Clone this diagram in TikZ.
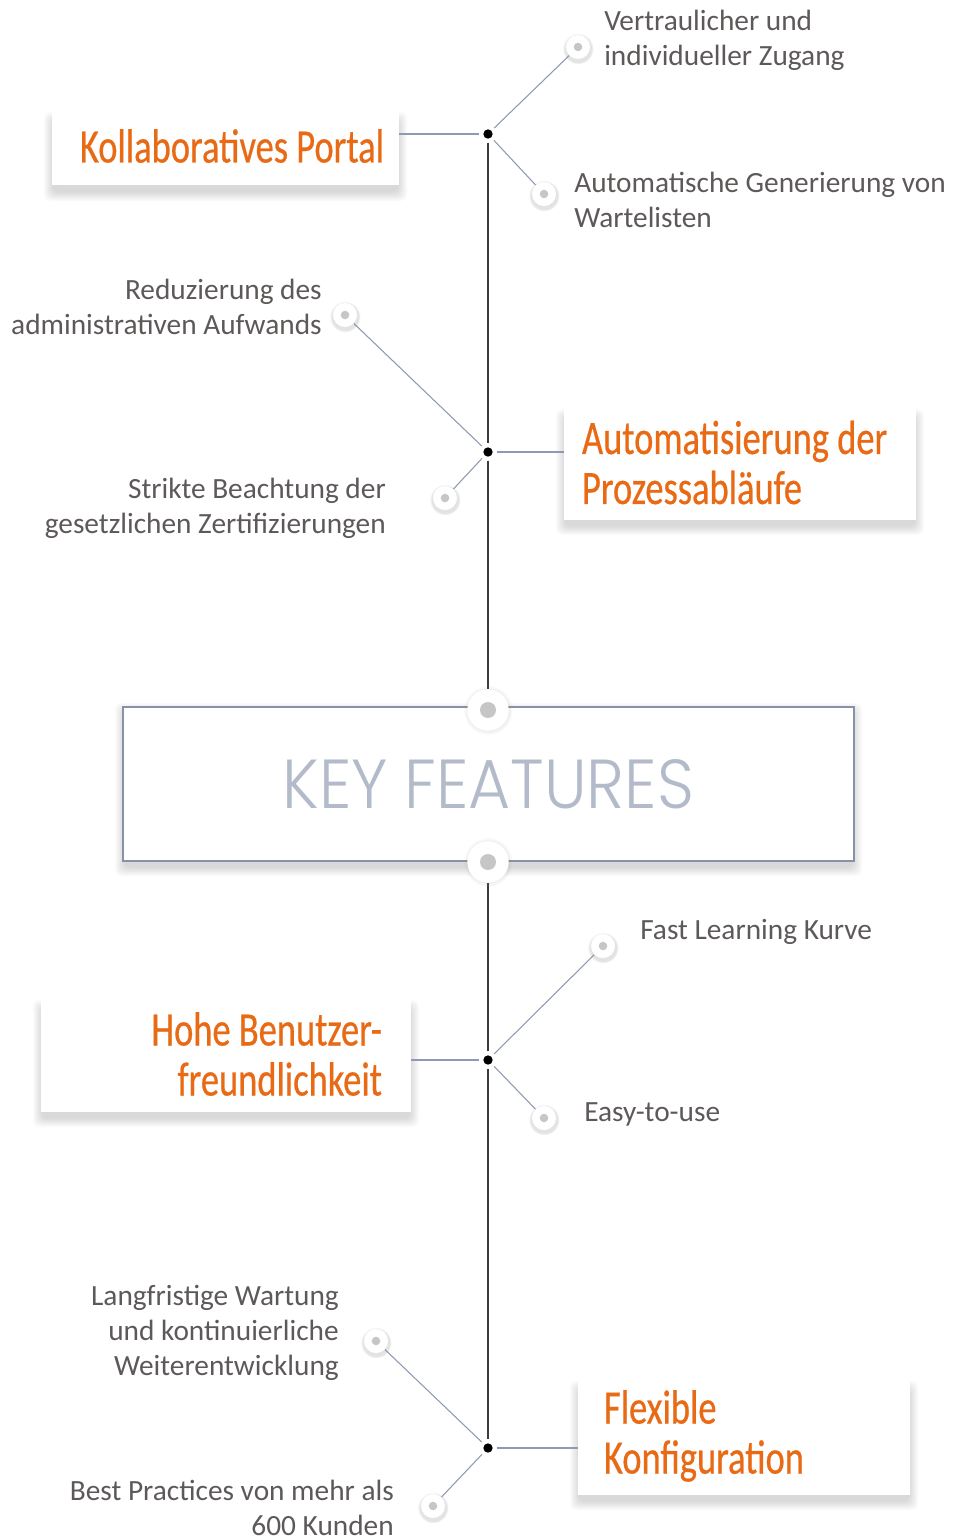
\documentclass[tikz,border=0pt]{standalone}
\usepackage{fontspec}
\setmainfont{Carlito}
\newfontfamily\titlefont{Carlito}[FakeStretch=0.76,FakeBold=0.5]
\IfFontExistsTF{Poppins Light}{\newfontfamily\keyfont{Poppins Light}[FakeStretch=0.93,WordSpace=0.93]}{\newfontfamily\keyfont{Poppins}[FakeStretch=0.93,WordSpace=0.93]}
\usetikzlibrary{shadows}
\definecolor{orng}{HTML}{E96A14}
\definecolor{txtgray}{HTML}{5E5959}
\definecolor{slate}{HTML}{8D9AB2}
\definecolor{spinecol}{HTML}{3C3C3C}
\definecolor{keytxt}{HTML}{B3BBCB}
\definecolor{keyborder}{HTML}{8592A8}
\definecolor{dotgray}{HTML}{C6C6C6}
\pgfdeclarelayer{shadowlayer}
\pgfdeclarelayer{linelayer}
\pgfsetlayers{shadowlayer,linelayer,main}
% #1 x1, #2 y1, #3 x2, #4 y2, #5 top inset
\newcommand{\softshadow}[5]{%
  \begin{pgfonlayer}{shadowlayer}
  \foreach \s in {1,...,10}{
    \fill[black,opacity=0.017,rounded corners=4pt] (#1+2-\s,#2+#5-\s) rectangle (#3-2+\s,#4+5+\s);
  }
  \end{pgfonlayer}}
\begin{document}
\begin{tikzpicture}[x=0.75pt,y=-0.75pt,
  body/.style={inner sep=0pt,text=txtgray,font=\fontsize{22}{26.25}\selectfont},
  titlebox/.style={fill=white,inner ysep=0pt,text=orng,font=\titlefont\fontsize{36}{37.5}\selectfont},
  hub/.style={circle,fill=black,inner sep=0pt,minimum size=7pt,outer sep=3pt},
  bullet/.style={circle,fill=white,inner sep=0pt,minimum size=18pt,
    circular drop shadow={shadow xshift=0pt,shadow yshift=-1pt,shadow scale=1.3,opacity=0.22},
    path picture={\fill[dotgray] (path picture bounding box.center) circle[radius=3.2pt];}},
  bigbullet/.style={circle,fill=white,inner sep=0pt,minimum size=31pt,
    circular drop shadow={shadow xshift=0pt,shadow yshift=0pt,shadow scale=1.2,opacity=0.12},
    path picture={\fill[dotgray] (path picture bounding box.center) circle[radius=6pt];}},
  thin/.style={draw=slate,line width=0.8pt},
  spine/.style={draw=spinecol,line width=1pt}]
\useasboundingbox (0,0) rectangle (962,1539);

% box shadows
\softshadow{52}{108}{399}{186}{14}
\softshadow{564}{405}{916}{520}{14}
\softshadow{41}{996}{411}{1112}{14}
\softshadow{578}{1377}{910}{1495}{14}
\softshadow{123}{707}{854}{861}{6}

% title boxes
\node[titlebox,minimum width=260.25pt,minimum height=58.5pt,text width=237.75pt,align=flush right,inner xsep=11.25pt]
  (pA) at (225.5,146) {Kollaboratives Portal};
\node[titlebox,minimum width=264pt,minimum height=86.25pt,text width=237pt,align=flush left,inner xsep=13.5pt]
  (pB) at (740,462.5) {Automatisierung der\\Prozessabläufe};
\node[titlebox,minimum width=277.5pt,minimum height=87pt,text width=234pt,align=flush right,inner xsep=21.75pt]
  (pC) at (226,1054) {Hohe Benutzer-\\freundlichkeit};
\node[titlebox,minimum width=249pt,minimum height=88.5pt,text width=210pt,align=flush left,inner xsep=19.5pt]
  (pD) at (744,1436) {Flexible\\Konfiguration};

% key features box
\node[draw=keyborder,line width=2pt,fill=white,minimum width=548.25pt,minimum height=115.5pt,
  text=keytxt,font=\keyfont\fontsize{52}{52}\selectfont] (key) at (488.5,784) {KEY FEATURES};
\node[bigbullet] (kt) at (488,710) {};
\node[bigbullet] (kb) at (488,862) {};

% hubs
\node[hub] (h1) at (488,134) {};
\node[hub] (h2) at (488,452) {};
\node[hub] (h3) at (488,1060) {};
\node[hub] (h4) at (488,1448) {};

% bullets
\node[bullet] (b1) at (578,47) {};
\node[bullet] (b2) at (544,194) {};
\node[bullet] (b3) at (345,315) {};
\node[bullet] (b4) at (445,498) {};
\node[bullet] (b5) at (603,946) {};
\node[bullet] (b6) at (544,1118) {};
\node[bullet] (b7) at (376,1341) {};
\node[bullet] (b8) at (433,1506) {};

% labels
\node[body,anchor=west,align=left] (l1) at (604,40) {Vertraulicher und\\individueller Zugang};
\node[body,anchor=west,align=left] (l2) at (574,199.5) {Automatische Generierung von\\Wartelisten};
\node[body,anchor=east,align=right] (l3) at (322,306.5) {Reduzierung des\\administrativen Aufwands};
\node[body,anchor=east,align=right] (l4) at (386,508.5) {Strikte Beachtung der\\gesetzlichen Zertifizierungen};
\node[body,anchor=west,align=left] (l5) at (640,931.5) {Fast Learning Kurve};
\node[body,anchor=west,align=left] (l6) at (584,1114.5) {Easy-to-use};
\node[body,anchor=east,align=right] (l7) at (339,1332.5) {Langfristige Wartung\\und kontinuierliche\\Weiterentwicklung};
\node[body,anchor=east,align=right] (l8) at (394,1507.5) {Best Practices von mehr als\\600 Kunden};

% connectors
\begin{pgfonlayer}{linelayer}
\draw[spine] (h1) -- (h2);
\draw[spine] (h2) -- (kt);
\draw[spine] (kb) -- (h3);
\draw[spine] (h3) -- (h4);
\draw[thin] (h1) -- (h1 -| pA.east);
\draw[thin] (h2) -- (h2 -| pB.west);
\draw[thin] (h3) -- (h3 -| pC.east);
\draw[thin] (h4) -- (h4 -| pD.west);
\draw[thin] (h1) -- (b1);
\draw[thin] (h1) -- (b2);
\draw[thin] (h2) -- (b3);
\draw[thin] (h2) -- (b4);
\draw[thin] (h3) -- (b5);
\draw[thin] (h3) -- (b6);
\draw[thin] (h4) -- (b7);
\draw[thin] (h4) -- (b8);
\end{pgfonlayer}
\end{tikzpicture}
\end{document}
